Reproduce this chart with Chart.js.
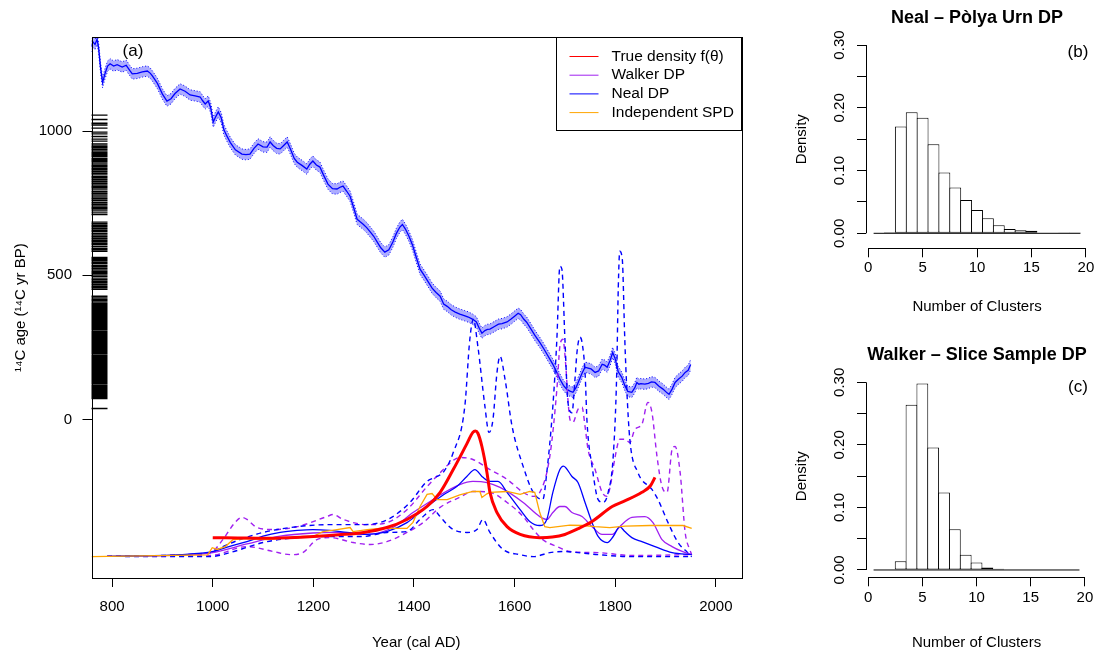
<!DOCTYPE html>
<html>
<head>
<meta charset="utf-8">
<script src="https://cdn.jsdelivr.net/npm/chart.js@4.4.1/dist/chart.umd.min.js"></script>
<style>
  html, body { margin: 0; padding: 0; background: #fff; }
  #wrap { position: relative; width: 1096px; height: 653px; }
  #wrap canvas { position: absolute; left: 0; top: 0; }
</style>
</head>
<body>
<div id="wrap">
  <canvas id="main" width="1096" height="653"></canvas>
  <canvas id="histNeal" width="1096" height="653"></canvas>
  <canvas id="histWalker" width="1096" height="653"></canvas>
</div>
<script>
// ---- data ----
const yearTicks = [800, 1000, 1200, 1400, 1600, 1800, 2000];
const ageTicks = [0, 500, 1000];

// calibration curve (cal AD -> 14C yr BP), band half-width
const calYears = [758, 762, 766, 770, 773, 777, 781, 786, 791, 796, 803, 810, 820, 828, 835, 840, 850, 860, 870, 876, 880, 890, 900, 909, 917, 925, 935, 945, 955, 965, 975, 980, 985, 991, 996, 1001, 1006, 1011, 1017, 1022, 1028, 1035, 1045, 1058, 1066, 1074, 1082, 1090, 1100, 1108, 1114, 1120, 1127, 1134, 1141, 1148, 1155, 1162, 1168, 1178, 1187, 1193, 1199, 1206, 1213, 1220, 1229, 1238, 1247, 1253, 1259, 1266, 1273, 1280, 1287, 1293, 1299, 1306, 1313, 1320, 1327, 1334, 1342, 1350, 1358, 1365, 1372, 1377, 1383, 1390, 1397, 1404, 1412, 1420, 1428, 1436, 1444, 1452, 1459, 1466, 1474, 1482, 1491, 1500, 1508, 1517, 1524, 1530, 1535, 1541, 1546, 1551, 1560, 1568, 1575, 1585, 1593, 1600, 1607, 1612, 1618, 1624, 1632, 1640, 1650, 1658, 1667, 1676, 1682, 1690, 1697, 1704, 1710, 1716, 1722, 1728, 1734, 1740, 1746, 1752, 1760, 1767, 1774, 1779, 1784, 1790, 1795, 1800, 1806, 1813, 1819, 1825, 1833, 1839, 1843, 1847, 1851, 1859, 1866, 1872, 1879, 1887, 1895, 1903, 1907, 1913, 1919, 1926, 1933, 1939, 1945, 1950];
const calAges = [1292, 1309, 1300, 1318, 1290, 1220, 1168, 1200, 1225, 1233, 1225, 1230, 1222, 1228, 1210, 1198, 1200, 1205, 1208, 1200, 1191, 1165, 1128, 1104, 1112, 1130, 1146, 1138, 1125, 1122, 1118, 1105, 1094, 1104, 1080, 1031, 1050, 1066, 1045, 1005, 983, 960, 935, 920, 918, 920, 940, 955, 945, 944, 962, 950, 940, 938, 950, 962, 935, 905, 892, 880, 868, 885, 896, 882, 875, 848, 816, 800, 799, 805, 809, 792, 774, 735, 694, 685, 677, 665, 650, 635, 615, 595, 580, 588, 615, 645, 667, 676, 660, 635, 605, 565, 521, 500, 478, 455, 440, 427, 400, 392, 380, 372, 365, 360, 355, 347, 338, 315, 299, 308, 312, 313, 322, 330, 332, 338, 348, 358, 368, 363, 348, 337, 315, 292, 267, 245, 218, 191, 170, 140, 118, 104, 98, 94, 110, 135, 160, 181, 178, 175, 163, 168, 191, 188, 181, 205, 232, 210, 165, 146, 118, 97, 94, 110, 128, 122, 124, 122, 125, 130, 128, 115, 105, 92, 87, 105, 128, 140, 150, 163, 170, 190];
const calError = 18;

// radiocarbon determinations (rug on the age axis)
const c14Ages = [1055, 1040, 1027, 1021, 1010, 996, 990, 981, 972, 965, 955, 948, 943, 937, 931, 926, 921, 917, 912, 906, 901, 897, 892, 886, 881, 876, 870, 865, 859, 853, 848, 842, 837, 831, 825, 819, 813, 807, 802, 796, 790, 784, 778, 771, 765, 759, 752, 746, 740, 734, 729, 723, 716, 710,
  684, 679, 673, 668, 662, 656, 651, 645, 640, 634, 628, 622, 617, 611, 606, 600, 594, 589, 583,
  562, 557, 552, 546, 541, 535, 530, 524, 518, 512, 507, 501, 496, 490, 484, 478, 473, 467, 461, 456, 451,
  427, 421, 415, 410, 404, 400, 396, 391, 387, 383, 379, 375, 370, 366, 362, 358, 354, 349, 345, 341, 337, 333, 328, 324, 320, 316, 312, 307, 303, 299, 295, 291, 286, 282, 278, 274, 270, 265, 261, 257, 253, 249, 244, 240, 236, 232, 228, 223, 219, 215, 211, 207, 202, 198, 194, 190, 186, 181, 177, 173, 169, 165, 160, 156, 152, 148, 144, 139, 135, 131, 127, 123, 118, 114, 110, 106, 102, 97, 93, 89, 85, 81, 76, 72, 38];

// density curves, plotted height on the age axis: [year, height]
const trueDensity = [[1000,-410],[1050,-411],[1100,-412],[1150,-410],[1200,-406],[1250,-400],[1300,-392],[1346,-375],[1386,-347],[1426,-302],[1452,-253],[1478,-174],[1505,-85],[1517,-45],[1522,-40],[1527,-48],[1535,-94],[1545,-184],[1551,-253],[1565,-323],[1585,-372],[1611,-399],[1650,-410],[1675,-408],[1700,-399],[1725,-380],[1754,-354],[1794,-302],[1820,-282],[1853,-253],[1870,-230],[1879,-201]];
const spdDensity = [[759,-476],[990,-470],[999,-445],[1009,-451],[1025,-441],[1040,-417],[1068,-413],[1108,-417],[1154,-410],[1179,-406],[1199,-406],[1219,-389],[1247,-382],[1273,-375],[1279,-389],[1307,-382],[1332,-378],[1358,-378],[1386,-378],[1398,-357],[1412,-302],[1426,-260],[1436,-257],[1446,-278],[1466,-278],[1491,-262],[1517,-250],[1531,-250],[1535,-271],[1545,-258],[1551,-253],[1585,-250],[1611,-260],[1630,-250],[1640,-253],[1650,-323],[1660,-372],[1670,-375],[1710,-367],[1736,-368],[1760,-372],[1789,-375],[1820,-370],[1869,-368],[1935,-368],[1952,-378]];
const nealMean = [[790,-475],[935,-469],[1001,-458],[1034,-440],[1068,-424],[1100,-405],[1134,-392],[1168,-385],[1199,-382],[1233,-385],[1267,-392],[1307,-399],[1346,-389],[1386,-358],[1426,-302],[1458,-262],[1485,-233],[1505,-198],[1521,-174],[1537,-201],[1551,-215],[1567,-215],[1585,-253],[1611,-313],[1630,-354],[1650,-368],[1664,-347],[1676,-253],[1690,-174],[1697,-162],[1714,-198],[1726,-219],[1740,-288],[1754,-358],[1766,-406],[1784,-427],[1796,-406],[1809,-372],[1819,-389],[1833,-410],[1853,-424],[1879,-441],[1913,-462],[1952,-469]];
const walkerMean = [[790,-475],[935,-471],[1000,-462],[1068,-432],[1134,-405],[1199,-394],[1247,-392],[1307,-399],[1358,-375],[1398,-323],[1438,-278],[1452,-262],[1491,-226],[1517,-215],[1545,-219],[1571,-236],[1617,-288],[1650,-337],[1664,-347],[1676,-323],[1690,-302],[1700,-302],[1714,-323],[1734,-337],[1754,-372],[1774,-399],[1794,-399],[1809,-372],[1833,-340],[1859,-337],[1875,-358],[1893,-417],[1913,-441],[1933,-458],[1952,-469]];
const nealUpper = [[790,-475],[935,-470],[995,-462],[1020,-441],[1054,-417],[1100,-392],[1168,-372],[1233,-365],[1299,-365],[1332,-358],[1358,-337],[1392,-288],[1426,-215],[1446,-198],[1458,-184],[1478,-115],[1501,45],[1511,278],[1518,347],[1527,253],[1541,45],[1549,-45],[1557,0],[1565,163],[1571,219],[1581,139],[1595,-24],[1617,-163],[1637,-253],[1656,-278],[1664,-184],[1676,45],[1684,278],[1690,531],[1694,521],[1700,278],[1706,60],[1714,23],[1720,139],[1724,233],[1730,285],[1734,267],[1740,163],[1744,-10],[1754,-163],[1766,-278],[1776,-288],[1786,-253],[1796,-128],[1803,163],[1806,451],[1809,583],[1814,556],[1819,278],[1823,104],[1829,-69],[1845,-184],[1873,-243],[1885,-278],[1905,-358],[1925,-427],[1944,-462],[1952,-476]];
const nealLower = [[790,-475],[995,-476],[1034,-462],[1100,-427],[1168,-410],[1233,-406],[1299,-406],[1346,-392],[1386,-389],[1412,-347],[1438,-313],[1452,-337],[1466,-365],[1478,-382],[1505,-392],[1525,-382],[1537,-347],[1551,-392],[1577,-451],[1611,-469],[1637,-476],[1670,-462],[1696,-458],[1726,-462],[1766,-469],[1833,-476],[1952,-476]];
const walkerUpper = [[790,-475],[995,-462],[1020,-417],[1044,-358],[1058,-340],[1068,-347],[1088,-375],[1120,-382],[1168,-372],[1227,-337],[1239,-330],[1259,-347],[1307,-365],[1346,-358],[1386,-313],[1426,-233],[1452,-185],[1466,-160],[1491,-132],[1517,-139],[1551,-174],[1585,-208],[1617,-253],[1637,-267],[1650,-253],[1670,-128],[1684,104],[1690,253],[1696,278],[1702,180],[1706,69],[1710,0],[1716,-10],[1726,35],[1734,42],[1740,-24],[1746,-104],[1760,-174],[1774,-253],[1784,-267],[1790,-233],[1800,-128],[1809,-69],[1819,-69],[1829,-80],[1839,-35],[1853,-17],[1865,59],[1873,24],[1883,-128],[1893,-233],[1903,-253],[1913,-104],[1919,-94],[1929,-184],[1939,-392],[1948,-451],[1952,-469]];
const walkerLower = [[790,-475],[995,-472],[1068,-441],[1120,-458],[1154,-469],[1179,-462],[1207,-417],[1233,-410],[1279,-427],[1313,-434],[1346,-424],[1386,-392],[1418,-358],[1452,-305],[1491,-270],[1517,-250],[1551,-253],[1585,-288],[1617,-337],[1637,-382],[1656,-417],[1684,-441],[1710,-458],[1766,-462],[1833,-472],[1952,-469]];

// cluster-count histograms
const clusterBins = [1, 2, 3, 4, 5, 6, 7, 8, 9, 10, 11, 12, 13, 14, 15, 16, 17, 18, 19];
const clusterBreaks = [0.5, 19.5];
const nealClusters = [0, 0.0016, 0.170, 0.193, 0.184, 0.142, 0.097, 0.073, 0.053, 0.037, 0.024, 0.013, 0.007, 0.005, 0.004, 0.001, 0.001, 0.0005, 0.0005];
const walkerClusters = [0, 0, 0.014, 0.264, 0.298, 0.196, 0.124, 0.065, 0.0245, 0.012, 0.004, 0.002, 0, 0, 0, 0, 0, 0, 0];
const clusterTicks = [0, 5, 10, 15, 20];
const densityTicks = [0, 0.05, 0.10, 0.15, 0.20, 0.25, 0.30];
const densityLabels = [0, 0.10, 0.20, 0.30];

// ---- drawing ----
const FONT = "'Liberation Sans', Arial, Helvetica, sans-serif";
Chart.defaults.font.family = FONT;
Chart.defaults.font.size = 15;
Chart.defaults.color = "#000";

const RED = "#ff0000", PURPLE = "#a020f0", BLUE = "#0000ff", ORANGE = "#ffa500";

function pts(pairs) {
    return pairs.map(function (p) { return { x: p[0], y: p[1] }; });
}
function fixTicks(values) {
    return function (scale) { scale.ticks = values.map(function (v) { return { value: v }; }); };
}
function plainLabel(value) {
    return String(value);
}

const calLine = calYears.map(function (yr, i) { return { x: yr, y: calAges[i] }; });
const calUpper = calYears.map(function (yr, i) { return { x: yr, y: calAges[i] + calError }; });
const calLower = calYears.map(function (yr, i) { return { x: yr, y: calAges[i] - calError }; });

const legendItems = [
    { label: "True density f(\u03b8)", color: RED },
    { label: "Walker DP", color: PURPLE },
    { label: "Neal DP", color: BLUE },
    { label: "Independent SPD", color: ORANGE },
];

const mainDecor = {
    id: "mainDecor",
    afterDatasetsDraw: function (chart) {
        const ctx = chart.ctx, a = chart.chartArea, y = chart.scales.y;
        ctx.save();
        // rug of 14C ages
        ctx.strokeStyle = "#000";
        ctx.lineWidth = 1.4;
        ctx.beginPath();
        c14Ages.forEach(function (age) {
            const py = y.getPixelForValue(age);
            ctx.moveTo(a.left, py);
            ctx.lineTo(a.left + 16, py);
        });
        ctx.stroke();
        // box
        ctx.lineWidth = 1;
        ctx.strokeRect(Math.round(a.left) + 0.5, Math.round(a.top) + 0.5,
            Math.round(a.right - a.left), Math.round(a.bottom - a.top));
        // legend
        const lx = Math.round(a.right) - 185 + 0.5, ly = Math.round(a.top) + 0.5;
        ctx.fillStyle = "#fff";
        ctx.fillRect(lx, ly, 185, 93);
        ctx.strokeRect(lx, ly, 185, 93);
        ctx.font = "15.5px " + FONT;
        ctx.textAlign = "left";
        ctx.textBaseline = "middle";
        legendItems.forEach(function (it, i) {
            const ry = ly + 19 + i * 18.7;
            ctx.strokeStyle = it.color;
            ctx.lineWidth = 1;
            ctx.beginPath();
            ctx.moveTo(lx + 13, ry);
            ctx.lineTo(lx + 42, ry);
            ctx.stroke();
            ctx.fillStyle = "#000";
            ctx.fillText(it.label, lx + 55, ry);
        });
        // panel tag and axis titles
        ctx.fillStyle = "#000";
        ctx.textAlign = "center";
        ctx.font = "17px " + FONT;
        ctx.fillText("(a)", 133, 51);
        ctx.font = "15px " + FONT;
        ctx.fillText("Year (cal AD)", (a.left + a.right) / 2, 643);
        ctx.translate(21, (a.top + a.bottom) / 2);
        ctx.rotate(-Math.PI / 2);
        ctx.fillText("\u00b9\u2074C age (\u00b9\u2074C yr BP)", 0, 0);
        ctx.restore();
    },
};

const lineDefaults = { pointRadius: 0, fill: false, tension: 0 };

new Chart(document.getElementById("main").getContext("2d"), {
    type: "line",
    data: {
        datasets: [
            Object.assign({ data: pts(trueDensity), borderColor: RED, borderWidth: 3, cubicInterpolationMode: "monotone" }, lineDefaults),
            Object.assign({ data: pts(spdDensity), borderColor: ORANGE, borderWidth: 1.3 }, lineDefaults),
            Object.assign({ data: pts(nealMean), borderColor: BLUE, borderWidth: 1.3, cubicInterpolationMode: "monotone" }, lineDefaults),
            Object.assign({ data: pts(walkerMean), borderColor: PURPLE, borderWidth: 1.3, cubicInterpolationMode: "monotone" }, lineDefaults),
            Object.assign({ data: pts(nealUpper), borderColor: BLUE, borderWidth: 1.4, borderDash: [5, 4], cubicInterpolationMode: "monotone" }, lineDefaults),
            Object.assign({ data: pts(nealLower), borderColor: BLUE, borderWidth: 1.4, borderDash: [5, 4], cubicInterpolationMode: "monotone" }, lineDefaults),
            Object.assign({ data: pts(walkerUpper), borderColor: PURPLE, borderWidth: 1.4, borderDash: [5, 4], cubicInterpolationMode: "monotone" }, lineDefaults),
            Object.assign({ data: pts(walkerLower), borderColor: PURPLE, borderWidth: 1.4, borderDash: [5, 4], cubicInterpolationMode: "monotone" }, lineDefaults),
            Object.assign({ data: calLine, borderColor: BLUE, borderWidth: 1.3 }, lineDefaults),
            { data: calUpper, borderColor: BLUE, borderWidth: 1, borderDash: [1, 2], pointRadius: 0, tension: 0, fill: "+1", backgroundColor: "rgba(40,40,255,0.38)" },
            Object.assign({ data: calLower, borderColor: BLUE, borderWidth: 1, borderDash: [1, 2] }, lineDefaults),
        ],
    },
    options: {
        responsive: false,
        animation: false,
        devicePixelRatio: 1,
        events: [],
        layout: { padding: { left: 0, top: 37.3, right: 355, bottom: 0 } },
        plugins: { legend: { display: false }, tooltip: { enabled: false } },
        scales: {
            x: {
                type: "linear",
                min: 759,
                max: 2050,
                grid: { display: true, drawOnChartArea: false, drawTicks: true, tickLength: 9, color: "#000" },
                border: { display: false },
                ticks: { padding: 10.7, maxRotation: 0, autoSkip: false, callback: plainLabel },
                afterBuildTicks: fixTicks(yearTicks),
                afterFit: function (s) { s.height = 75; },
            },
            y: {
                type: "linear",
                min: -550,
                max: 1325,
                grid: { display: true, drawOnChartArea: false, drawTicks: true, tickLength: 9, color: "#000" },
                border: { display: false },
                ticks: { padding: 10.5, callback: plainLabel },
                afterBuildTicks: fixTicks(ageTicks),
                afterFit: function (s) { s.width = 91.5; },
            },
        },
    },
    plugins: [mainDecor],
});

function histDecor(title, tag, pos) {
    return {
        id: "histDecor",
        afterDatasetsDraw: function (chart) {
            const ctx = chart.ctx, a = chart.chartArea, x = chart.scales.x, y = chart.scales.y;
            ctx.save();
            ctx.strokeStyle = "#000";
            ctx.lineWidth = 1;
            ctx.beginPath();
            const bx = Math.round(a.bottom) + 0.5, lx = Math.round(a.left) + 0.5;
            ctx.moveTo(x.getPixelForValue(clusterTicks[0]), bx);
            ctx.lineTo(x.getPixelForValue(clusterTicks[clusterTicks.length - 1]), bx);
            ctx.moveTo(lx, y.getPixelForValue(densityTicks[0]));
            ctx.lineTo(lx, y.getPixelForValue(densityTicks[densityTicks.length - 1]));
            ctx.stroke();
            ctx.fillStyle = "#000";
            ctx.textAlign = "center";
            ctx.textBaseline = "middle";
            ctx.font = "bold 18px " + FONT;
            ctx.fillText(title, 977, pos.titleY);
            ctx.font = "17px " + FONT;
            ctx.fillText(tag, 1078, pos.tagY);
            ctx.font = "15px " + FONT;
            ctx.fillText("Number of Clusters", x.getPixelForValue(10), pos.xlabY);
            densityLabels.forEach(function (v) {
                ctx.save();
                ctx.translate(840, y.getPixelForValue(v));
                ctx.rotate(-Math.PI / 2);
                ctx.fillText(v.toFixed(2), 0, 0);
                ctx.restore();
            });
            ctx.translate(802, (y.getPixelForValue(0) + y.getPixelForValue(0.3)) / 2);
            ctx.rotate(-Math.PI / 2);
            ctx.fillText("Density", 0, 0);
            ctx.restore();
        },
    };
}

function makeHist(id, values, title, tag, pos) {
    new Chart(document.getElementById(id).getContext("2d"), {
        type: "bar",
        data: {
            datasets: [
                {
                    type: "line",
                    data: [{ x: clusterBreaks[0], y: 0 }, { x: clusterBreaks[1], y: 0 }],
                    borderColor: "#000",
                    borderWidth: 1,
                    pointRadius: 0,
                },
                {
                    data: clusterBins.map(function (b, i) { return { x: b, y: values[i] }; }),
                    backgroundColor: "#fff",
                    borderColor: "#000",
                    borderWidth: 1,
                    borderSkipped: false,
                    barPercentage: 1.09,
                    categoryPercentage: 1,
                },
            ],
        },
        options: {
            responsive: false,
            animation: false,
            devicePixelRatio: 1,
            events: [],
            layout: { padding: { left: 806, right: 5, top: pos.top, bottom: 0 } },
            plugins: { legend: { display: false }, tooltip: { enabled: false } },
            scales: {
                x: {
                    type: "linear",
                    min: -0.2,
                    max: 20.3,
                    offset: false,
                    grid: { display: true, offset: false, drawOnChartArea: false, drawTicks: true, tickLength: 9, color: "#000" },
                    border: { display: false },
                    ticks: { padding: pos.tickPad, maxRotation: 0, autoSkip: false, callback: plainLabel },
                    afterBuildTicks: fixTicks(clusterTicks),
                    afterFit: function (s) { s.height = 653 - pos.bottom; },
                },
                y: {
                    type: "linear",
                    min: pos.yMin,
                    max: pos.yMax,
                    grid: { display: true, drawOnChartArea: false, drawTicks: true, tickLength: 9, color: "#000" },
                    border: { display: false },
                    ticks: { display: false },
                    afterBuildTicks: fixTicks(densityTicks),
                    afterFit: function (s) { s.width = 60; },
                },
            },
        },
        plugins: [histDecor(title, tag, pos)],
    });
}

makeHist("histNeal", nealClusters, "Neal \u2013 P\u00f2lya Urn DP", "(b)",
    { top: 37, bottom: 248.3, yMin: -0.0239, yMax: 0.3128, tickPad: 1.7, titleY: 18, tagY: 52, xlabY: 307 });
makeHist("histWalker", walkerClusters, "Walker \u2013 Slice Sample DP", "(c)",
    { top: 375, bottom: 577.3, yMin: -0.0117, yMax: 0.3117, tickPad: 2.7, titleY: 355, tagY: 387, xlabY: 643 });
</script>
</body>
</html>
